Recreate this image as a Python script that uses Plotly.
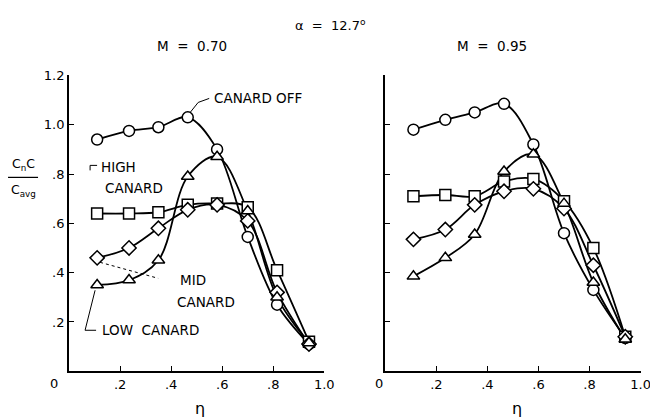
import plotly.graph_objects as go

# eta stations
eta = [0.11, 0.235, 0.35, 0.465, 0.58, 0.70, 0.815, 0.94]

# M = 0.70
m70_off  = [0.94, 0.975, 0.99, 1.03, 0.90, 0.545, 0.27, 0.11]
m70_high = [0.64, 0.64, 0.645, 0.675, 0.68, 0.665, 0.41, 0.12]
m70_mid  = [0.46, 0.50, 0.58, 0.655, 0.675, 0.61, 0.32, 0.11]
m70_low  = [0.35, 0.37, 0.45, 0.79, 0.87, 0.65, 0.30, 0.115]

# M = 0.95
m95_off  = [0.98, 1.02, 1.05, 1.085, 0.92, 0.56, 0.33, 0.135]
m95_high = [0.71, 0.715, 0.71, 0.77, 0.78, 0.69, 0.50, 0.14]
m95_mid  = [0.535, 0.575, 0.675, 0.73, 0.74, 0.66, 0.43, 0.14]
m95_low  = [0.385, 0.46, 0.555, 0.81, 0.88, 0.68, 0.36, 0.13]

x_ticks = [0.2, 0.4, 0.6, 0.8, 1.0]
x_labels = [".2", ".4", ".6", ".8", "1.0"]
y_ticks = [0.2, 0.4, 0.6, 0.8, 1.0, 1.2]
y_labels = [".2", ".4", ".6", ".8", "1.0", "1.2"]

FONT = "DejaVu Sans, sans-serif"

W, H = 662, 419
S, DY = 0.984, 6.5   # observed capture scale / vertical offset


def px(xp, yp):
    fx = xp / S
    fy = (yp - DY) / S
    return fx / W, 1 - fy / H


fig = go.Figure()

series = [
    ("Canard off", "circle"),
    ("High canard", "square"),
    ("Mid canard", "diamond"),
    ("Low canard", "triangle-up"),
]
panels = [
    ("x", "y", [m70_off, m70_high, m70_mid, m70_low]),
    ("x2", "y2", [m95_off, m95_high, m95_mid, m95_low]),
]

for xa, ya, data in panels:
    for (name, sym), vals in zip(series, data):
        fig.add_trace(go.Scatter(
            x=eta, y=vals, xaxis=xa, yaxis=ya, mode="lines",
            line=dict(color="black", width=1.8, shape="spline", smoothing=1.0),
            showlegend=False, hoverinfo="skip"))
    for (name, sym), vals in zip(series, data):
        fig.add_trace(go.Scatter(
            x=eta, y=vals, xaxis=xa, yaxis=ya, mode="markers", name=name,
            marker=dict(symbol=sym, size=11, color="white",
                        line=dict(color="black", width=1.5)),
            showlegend=False))

ax_common = dict(
    showgrid=False, zeroline=False, showline=True, linecolor="black", linewidth=2,
    ticks="inside", ticklen=5, tickwidth=1.2, tickcolor="black",
    tickfont=dict(family=FONT, size=13, color="black"),
)

xl0, _ = px(69, 0)
xl1, _ = px(324, 0)
xr0, _ = px(385, 0)
xr1, _ = px(640, 0)
_, yb = px(0, 371)
_, yt = px(0, 75)

fig.update_layout(
    width=W, height=H,
    margin=dict(l=0, r=0, t=0, b=0),
    paper_bgcolor="white", plot_bgcolor="white",
    xaxis=dict(domain=[xl0, xl1], range=[0, 1.0], anchor="y",
               tickvals=x_ticks, ticktext=x_labels, **ax_common),
    yaxis=dict(domain=[yb, yt], range=[0, 1.2], anchor="x",
               tickvals=y_ticks, ticktext=y_labels, **ax_common),
    xaxis2=dict(domain=[xr0, xr1], range=[0, 1.0], anchor="y2",
                tickvals=x_ticks, ticktext=x_labels, **ax_common),
    yaxis2=dict(domain=[yb, yt], range=[0, 1.2], anchor="x2",
                tickvals=y_ticks, showticklabels=False, **ax_common),
    font=dict(family=FONT, size=13, color="black"),
)


def ann(text, xp, yp, size=13.5, xanchor="center"):
    x, y = px(xp, yp)
    fig.add_annotation(text=text, x=x, y=y, xref="paper", yref="paper",
                       showarrow=False, xanchor=xanchor, yanchor="middle",
                       font=dict(family=FONT, size=size, color="black"))


# titles
ann("α  =  12.7<sup>o</sup>", 330, 25, size=13)
ann("M  =  0.70", 192, 46)
ann("M  =  0.95", 492, 46)
# axis titles
ann("η", 200, 408, size=16)
ann("η", 517, 408, size=16)
ann("0", 54, 383, size=13)
ann("0", 379, 383, size=13)
ann("C<sub>n</sub>C", 23, 164, size=12.5)
ann("C<sub>avg</sub>", 23, 190, size=12.5)


def seg(x0, y0, x1, y1, dash="solid", width=1):
    a0, b0 = px(x0, y0)
    a1, b1 = px(x1, y1)
    fig.add_shape(type="line", xref="paper", yref="paper",
                  x0=a0, y0=b0, x1=a1, y1=b1,
                  line=dict(color="black", width=width, dash=dash))


seg(8, 177, 38, 177, width=1.2)

# curve labels (left panel)
ann("CANARD OFF", 212, 98, xanchor="left")
ann("HIGH", 99, 167, xanchor="left")
ann("CANARD", 103, 188, xanchor="left")
ann("MID", 178, 280, xanchor="left")
ann("CANARD", 175, 302, xanchor="left")
ann("LOW  CANARD", 100, 330, xanchor="left")

# leader lines
seg(190, 112, 198, 102)
seg(198, 102, 209, 98)
seg(90, 165, 97, 165)
seg(90, 165, 90, 170)
seg(100, 262, 158, 278, dash="dot")
seg(85, 330, 96, 330)
seg(85, 330, 95, 290)

fig.write_html(
    "out.html",
    config={"displayModeBar": False},
    post_script="document.body.style.margin='0';document.body.style.overflow='hidden';",
)
